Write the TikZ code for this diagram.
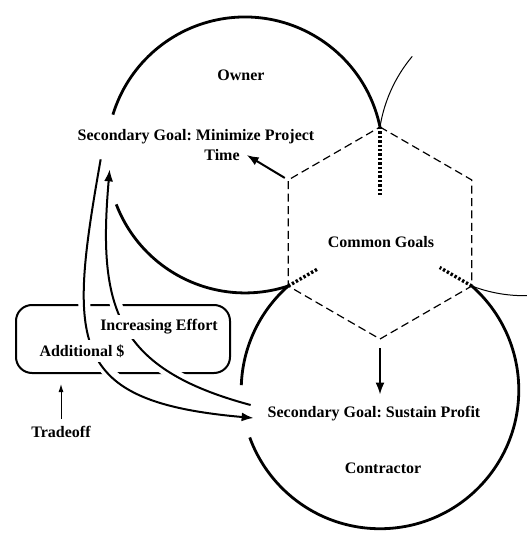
\documentclass[tikz,border=0pt]{standalone}
\usepackage{fontspec}
\setmainfont{Liberation Serif}
\usetikzlibrary{arrows.meta, calc}

\begin{document}
\frenchspacing
\begin{tikzpicture}[
    x=0.5pt, y=0.5pt,
    every node/.style={font=\bfseries\fontsize{8}{9}\selectfont},
    party/.style={line width=1.4pt},
    other/.style={line width=0.5pt},
    hexline/.style={line width=0.6pt, dash pattern=on 4pt off 2.2pt},
    tie/.style={line width=1.7pt, dash pattern=on 1.2pt off 1pt},
    flow/.style={line width=1pt, -{Latex[length=6pt, width=4.5pt]}},
    halo/.style={preaction={draw=white, line width=6pt, -}},
    tradebox/.style={draw, line width=1pt, rounded corners=8pt, minimum width=107pt, minimum height=34pt},
    gap/.style={fill=white, inner sep=2.5pt}
]
\useasboundingbox (0,0) rectangle (526,-535);

% Labels
\node (owner) at (241,-75) {Owner};
\node (mpt) at (196,-137) {Secondary Goal: Minimize Project};
\node (mpttime) at (222,-155) {Time};
\node (cg) at (381,-242) {Common Goals};
\node (sp) at (374,-414) {Secondary Goal: Sustain Profit};
\node (contractor) at (383,-468) {Contractor};
\node (trade) at (61,-432) {Tradeoff};

% Tradeoff box
\node[tradebox] (box) at (123,-339) {};

% Effort and money loop
\draw[flow, halo] ([shift={(30,-8)}]mpt.south west) to[out=-100, in=175, looseness=1.6] ([shift={(-7,-4)}]sp.west);
\draw[flow, halo] ([shift={(-10,9)}]sp.west) to[out=165, in=-95, looseness=1.3] ([shift={(39,-18)}]mpt.south west);
\node[gap] (effort) at (159,-327) {Increasing Effort};
\node[gap] (money) at (82,-351) {Additional \$};

% Hexagon corners
\coordinate (hc) at (380,-233);
\foreach \a/\n in {90/t, 150/ul, 210/ll, 270/b, 330/lr, 30/ur}
    \coordinate (h\n) at ($(hc)+(\a:106)$);

% Owner
\draw[party] (ht) arc[start angle=11.7, end angle=163, radius=138];
\draw[party] (hll) arc[start angle=288.2, end angle=201, radius=138];

% Contractor
\draw[party] (hll) arc[start angle=131.4, end angle=178, radius=138.7];
\draw[party] (hlr) arc[start angle=48.6, end angle=-160, radius=138.7];

% Third party, only partly shown
\draw[other] (ht) arc[start angle=170.9, end angle=140, radius=145.8];
\draw[other] (hlr) arc[start angle=249, end angle=272, radius=145.8];

% Common goals
\draw[hexline] (ht) -- (hur) -- (hlr) -- (hb) -- (hll) -- (hul) -- cycle;
\draw[tie] (ht) -- ($(ht)!0.64!(hc)$);
\draw[tie] (hll) -- ($(hll)!0.33!(hc)$);
\draw[tie] (hlr) -- ($(hlr)!0.35!(hc)$);

\draw[flow, shorten <=2pt] (hul) -- (mpttime.east);
\draw[flow, shorten <=4.5pt, shorten >=2.5pt] (hb) -- (hb |- sp.north);
\draw[line width=0.5pt, -{Latex[length=4pt, width=2.5pt]}, shorten >=5pt] (trade.north) -- (trade.north |- box.south);
\end{tikzpicture}
\end{document}
